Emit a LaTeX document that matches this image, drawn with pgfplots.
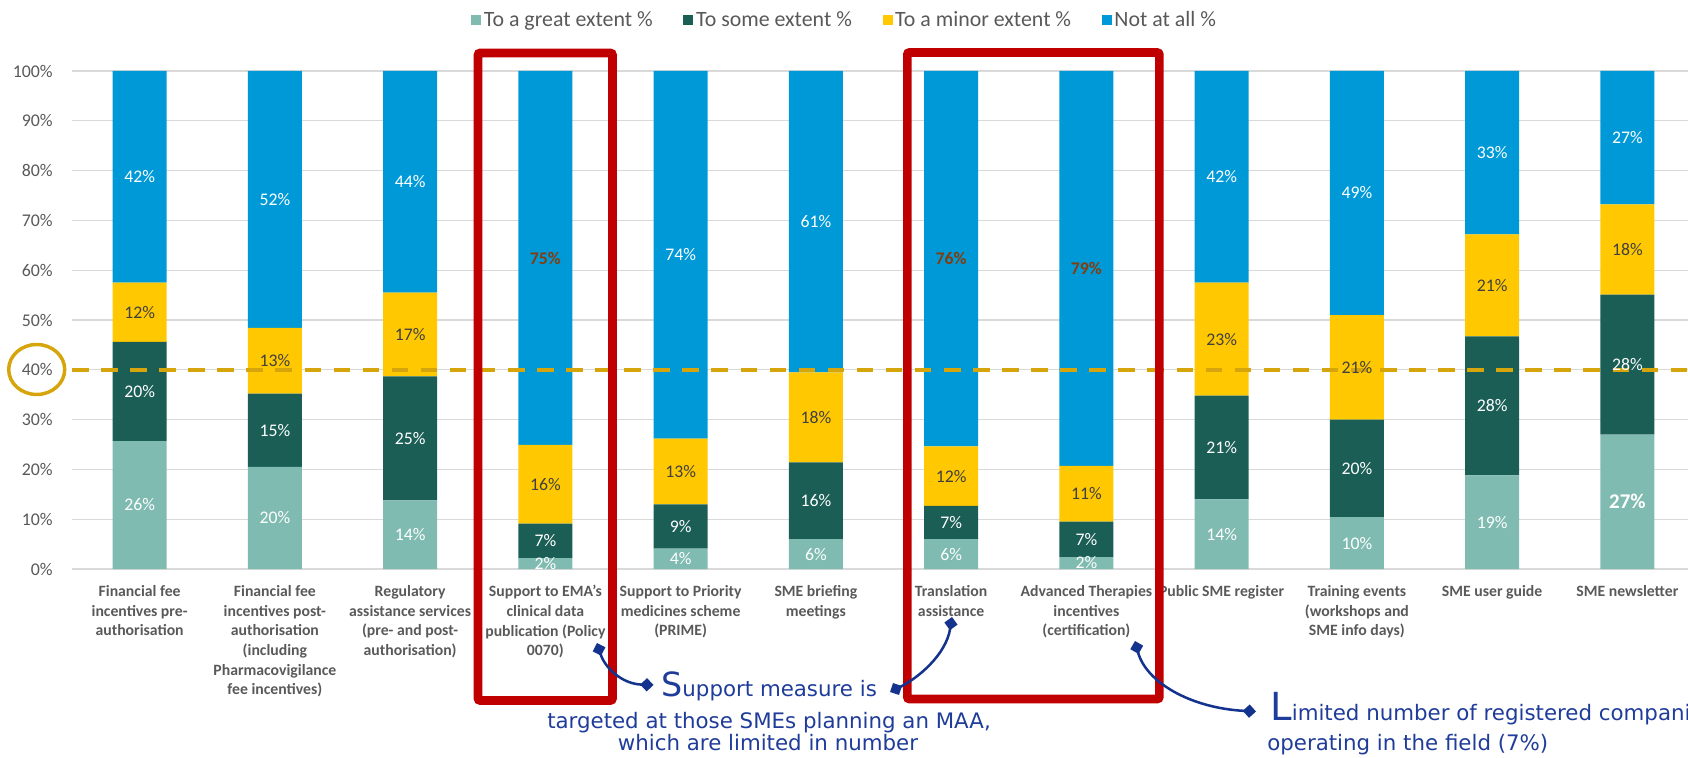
\documentclass[border=0pt]{standalone}
\usepackage{pgfplots}
\pgfplotsset{compat=1.18}
\usepackage{pgfplotstable}
\usepackage{fontspec}
\setmainfont{Carlito}
\newfontfamily\annofont{DejaVu Sans}
\usetikzlibrary{arrows.meta}
\definecolor{cgreat}{HTML}{7FBBB1}
\definecolor{csome}{HTML}{1A5E55}
\definecolor{cminor}{HTML}{FFC800}
\definecolor{cnot}{HTML}{0099D8}
\definecolor{tgray}{HTML}{595959}
\definecolor{lgray}{HTML}{404040}
\definecolor{gridc}{HTML}{D9D9D9}
\definecolor{hlbrown}{HTML}{843C0C}
\definecolor{gold}{HTML}{D6A40B}
\definecolor{boxred}{HTML}{C00000}
\definecolor{annoblue}{HTML}{1F3C9A}
\definecolor{arrowblue}{HTML}{13338E}

\pgfplotstableread{
x g s m n lg ls lm ln
0 25.7 19.9 11.9 42.5 26 20 12 42
1 20.5 14.7 13.2 51.6 20 15 13 52
2 13.8 24.9 16.8 44.5 14 25 17 44
3 2.2 6.9 15.8 75.1 2 7 16 75
4 4.1 8.9 13.2 73.8 4 9 13 74
5 6.0 15.4 18.1 60.5 6 16 18 61
6 6.0 6.7 11.9 75.4 6 7 12 76
7 2.4 7.1 11.2 79.3 2 7 11 79
8 14.0 20.8 22.7 42.5 14 21 23 42
9 10.4 19.6 21.0 49.0 10 20 21 49
10 18.8 27.9 20.5 32.8 19 28 21 33
11 27.0 28.1 18.1 26.8 27 28 18 27
}\datatable

\pgfplotsset{
  base/.style={
    scale only axis, width=1217.25pt, height=373.5pt,
    at={(54pt,141pt)}, anchor=south west,
    xmin=-0.5, xmax=11.5, ymin=0, ymax=100,
    enlargelimits=false, clip=false,
  },
  sq/.style={legend image code/.code={\fill[##1] (0pt,-3.75pt) rectangle (7.5pt,3.75pt);}},
}

\begin{document}
\begin{tikzpicture}
\begin{axis}[base,
  ybar stacked, bar width=40.5pt,
  axis line style={draw=none}, major tick length=0pt,
  ymajorgrids, grid style={gridc, line width=1pt},
  ytick={0,10,20,30,40,50,60,70,80,90,100},
  yticklabels={0\%,10\%,20\%,30\%,40\%,50\%,60\%,70\%,80\%,90\%,100\%},
  yticklabel style={font=\fontsize{13.4}{16}\selectfont, text=tgray, anchor=east, inner sep=0pt, xshift=-14.25pt},
  xtick={0,1,2,3,4,5,6,7,8,9,10,11},
  xticklabels={
    {Financial fee\\incentives pre-\\authorisation},
    {Financial fee\\incentives post-\\authorisation\\(including\\Pharmacovigilance\\fee incentives)},
    {Regulatory\\assistance services\\(pre- and post-\\authorisation)},
    {Support to EMA’s\\clinical data\\publication (Policy\\0070)},
    {Support to Priority\\medicines scheme\\(PRIME)},
    {SME briefing\\meetings},
    {Translation\\assistance},
    {Advanced Therapies\\incentives\\(certification)},
    {Public SME register},
    {Training events\\(workshops and\\SME info days)},
    {SME user guide},
    {SME newsletter}},
  xticklabel style={font=\bfseries\fontsize{11.8}{14.8}\selectfont, text=tgray, align=center, anchor=north, inner sep=0pt, yshift=-12pt},
  legend columns=4,
  legend cell align=left,
  legend style={draw=none, fill=none, inner sep=0pt, at={(0.2458,1.1024)}, anchor=west,
    font=\fontsize{16.4}{19}\selectfont, text=tgray, nodes={inner sep=2pt},
    /tikz/every even column/.append style={column sep=21pt}},
]
\addplot[fill=cgreat, draw=none, sq] table[x=x,y=g]{\datatable};
\addlegendentry{To a great extent \%}
\addplot[fill=csome, draw=none, sq] table[x=x,y=s]{\datatable};
\addlegendentry{To some extent \%}
\addplot[fill=cminor, draw=none, sq] table[x=x,y=m]{\datatable};
\addlegendentry{To a minor extent \%}
\addplot[fill=cnot, draw=none, sq] table[x=x,y=n]{\datatable};
\addlegendentry{Not at all \%}
\end{axis}

\begin{axis}[base, axis lines=none, xtick=\empty, ytick=\empty,
  point meta=explicit symbolic,
  every node near coord/.append style={anchor=center, font=\fontsize{13.3}{16}\selectfont, inner sep=0pt},
]
\addplot[draw=none, mark=none, nodes near coords={\ifnum\pgfplotspointmeta=27 \bfseries\fontsize{15.7}{18}\selectfont\fi\pgfplotspointmeta\%}, every node near coord/.append style={text=white}]
  table[x=x, y expr=\thisrow{g}/2, meta=lg]{\datatable};
\addplot[draw=none, mark=none, nodes near coords={\pgfplotspointmeta\%}, every node near coord/.append style={text=white}]
  table[x=x, y expr=\thisrow{g}+\thisrow{s}/2, meta=ls]{\datatable};
\addplot[draw=none, mark=none, nodes near coords={\pgfplotspointmeta\%}, every node near coord/.append style={text=lgray}]
  table[x=x, y expr=\thisrow{g}+\thisrow{s}+\thisrow{m}/2, meta=lm]{\datatable};
\addplot[draw=none, mark=none, nodes near coords={\ifnum\pgfplotspointmeta>74 \color{hlbrown}\bfseries\fi\pgfplotspointmeta\%}, every node near coord/.append style={text=white}]
  table[x=x, y expr=\thisrow{g}+\thisrow{s}+\thisrow{m}+\thisrow{n}/2, meta=ln]{\datatable};
\addplot[gold, line width=3pt, dash pattern=on 12.4pt off 9.4pt, mark=none] coordinates {(-0.5,40) (11.5,40)};
\end{axis}

\begin{scope}[x=0.75pt, y=-0.75pt, shift={(0,-757)}]
\draw[boxred, line width=6.4pt, rounded corners=1.5pt] (478,53) rectangle (612.5,700.5);
\draw[boxred, line width=6.4pt, rounded corners=1.5pt] (907.3,52.5) rectangle (1159.3,699);
\draw[gold, line width=2.6pt] (36.7,369.5) ellipse [x radius=28, y radius=25];
\begin{scope}[arrowblue, line width=1.9pt]
\draw[{Diamond[length=10pt,width=10pt]}-{Diamond[length=10pt,width=10pt]}] (597,643) .. controls (605,668) and (622,684) .. (653.5,685);
\draw[{Diamond[length=10pt,width=10pt]}-{Diamond[length=10pt,width=10pt]}] (890,692) .. controls (918,678) and (946,655) .. (952,617);
\draw[{Diamond[length=10pt,width=10pt]}-{Diamond[length=10pt,width=10pt]}] (1135,641) .. controls (1146,682) and (1190,708) .. (1256,711.5);
\end{scope}
\begin{scope}[every node/.style={annoblue, inner sep=0pt, font=\annofont\fontsize{16}{19}\selectfont}]
\node[anchor=base west] at (661,696) {{\fontsize{25}{25}\selectfont S}upport measure is};
\node[anchor=base] at (769,728) {targeted at those SMEs planning an MAA,};
\node[anchor=base] at (768,750) {which are limited in number};
\node[anchor=base west] at (1270,720) {{\fontsize{29}{29}\selectfont L}imited number of registered companies};
\node[anchor=base west] at (1267,750) {operating in the field (7\%)};
\end{scope}
\end{scope}

\pgfresetboundingbox
\path[use as bounding box] (0,0) rectangle (1266pt,567.75pt);
\end{tikzpicture}
\end{document}
